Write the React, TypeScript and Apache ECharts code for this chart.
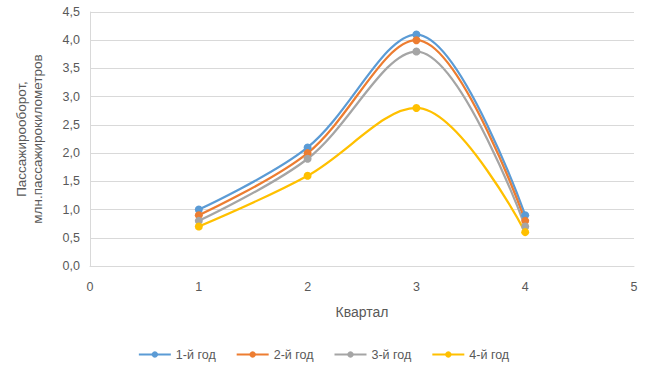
import React, { useEffect, useRef } from "react";
import * as echarts from "echarts";

const quarters = [1, 2, 3, 4];
const seriesNames = ["1-й год", "2-й год", "3-й год", "4-й год"];
const year1 = [1.0, 2.1, 4.1, 0.9];
const year2 = [0.9, 2.0, 4.0, 0.8];
const year3 = [0.8, 1.9, 3.8, 0.7];
const year4 = [0.7, 1.6, 2.8, 0.6];
const colors = ["#5B9BD5", "#ED7D31", "#A5A5A5", "#FFC000"];

const FONT = "'Liberation Sans', 'Open Sans', sans-serif";

export default function App() {
  const ref = useRef<HTMLDivElement>(null);
  useEffect(() => {
    if (!ref.current) return;
    const chart = echarts.init(ref.current, null, { renderer: "svg" });
    const all = [year1, year2, year3, year4];
    chart.setOption({
      animation: false,
      backgroundColor: "#ffffff",
      textStyle: { fontFamily: FONT, color: "#595959" },
      grid: { left: 90, right: 13, top: 12, bottom: 106, containLabel: false },
      xAxis: {
        type: "value",
        min: 0,
        max: 5,
        interval: 1,
        name: "Квартал",
        nameLocation: "middle",
        nameGap: 39,
        nameTextStyle: { fontSize: 14, color: "#595959", fontFamily: FONT },
        axisLine: { show: true, lineStyle: { color: "#D9D9D9", width: 1 } },
        axisTick: { show: false },
        splitLine: { show: false },
        axisLabel: { fontSize: 12.5, color: "#595959", margin: 14, fontFamily: FONT, showMaxLabel: true },
      },
      yAxis: {
        type: "value",
        min: 0,
        max: 4.5,
        interval: 0.5,
        name: "Пассажирооборот,\nмлн.пассажирокилометров",
        nameLocation: "middle",
        nameGap: 45,
        nameRotate: 90,
        nameTextStyle: { fontSize: 13.5, color: "#595959", lineHeight: 16, fontFamily: FONT },
        axisLine: { show: true, lineStyle: { color: "#D9D9D9", width: 1 } },
        axisTick: { show: false },
        splitLine: { show: true, lineStyle: { color: "#D9D9D9", width: 1 } },
        axisLabel: {
          fontSize: 12.5,
          color: "#595959",
          margin: 10,
          fontFamily: FONT,
          formatter: (v: number) => v.toFixed(1).replace(".", ","),
        },
      },
      legend: {
        bottom: 6,
        left: "center",
        itemWidth: 32,
        itemHeight: 8,
        itemGap: 20,
        textStyle: { fontSize: 12.5, color: "#595959", fontFamily: FONT },
        data: seriesNames,
      },
      series: all.map((vals, i) => ({
        name: seriesNames[i],
        type: "line",
        smooth: 0.35,
        symbol: "circle",
        symbolSize: 8,
        color: colors[i],
        lineStyle: { width: 2.25, color: colors[i] },
        itemStyle: { color: colors[i] },
        data: quarters.map((q, j) => [q, vals[j]]),
      })),
    });
    return () => chart.dispose();
  }, []);
  return (
    <div
      ref={ref}
      style={{ position: "fixed", left: 0, top: 0, width: 647, height: 372 }}
    />
  );
}
